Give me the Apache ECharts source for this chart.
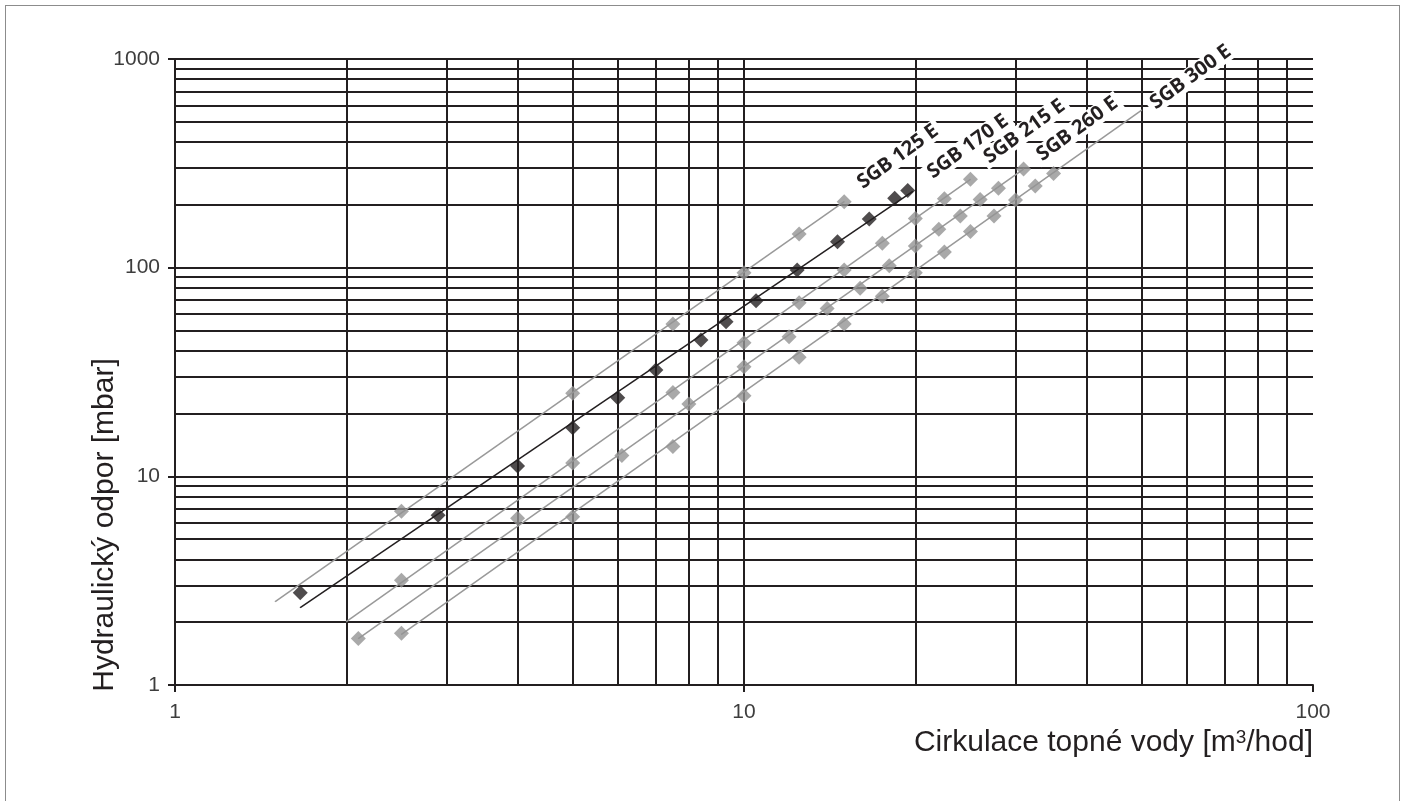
<!DOCTYPE html>
<html>
<head>
<meta charset="utf-8">
<title>Hydraulický odpor</title>
<script src="https://cdn.jsdelivr.net/npm/echarts@6/dist/echarts.min.js"></script>
<style>
  html, body { margin: 0; padding: 0; background: #fff; }
  #chart { width: 1405px; height: 801px; }
  .frame {
    position: absolute; left: 5px; top: 5px;
    width: 1393px; height: 810px;
    border: 1px solid #8c8c8c;
    pointer-events: none;
  }
</style>
</head>
<body>
<div id="chart"></div>
<div class="frame"></div>
<script>
// typy kotlů
const models = ['SGB 125 E', 'SGB 170 E', 'SGB 215 E', 'SGB 260 E', 'SGB 300 E'];
const colors = ['#999999', '#231f20', '#999999', '#999999', '#999999'];
// posun popisků (v natočených souřadnicích textu)
const labelOffsets = [[10, -11], [11, -10], [12, -13], [7, -7], [-1, -4]];

// naměřené body: průtok [m3/hod], odpor [mbar]
const flow125 = [2.5, 5, 7.5, 10, 12.5, 15];
const loss125 = [6.8, 25.0, 53.7, 94.5, 145, 207];
const flow170 = [1.66, 2.9, 4, 5, 6, 7, 8.4, 9.3, 10.5, 12.4, 14.6, 16.6, 18.4, 19.4];
const loss170 = [2.77, 6.5, 11.2, 17.1, 23.8, 32.3, 45.0, 55.1, 69.4, 97.4, 133, 171, 215, 234];
const flow215 = [2.5, 5, 7.5, 10, 12.5, 15, 17.5, 20, 22.5, 25];
const loss215 = [3.18, 11.6, 25.2, 43.7, 67.9, 97.4, 131, 172, 214, 265];
const flow260 = [2.1, 4, 6.1, 8, 10, 12, 14, 16, 18, 20, 22, 24, 26, 28, 31];
const loss260 = [1.67, 6.3, 12.6, 22.2, 33.5, 46.7, 63.8, 79.6, 102, 127, 153, 177, 212, 240, 297];
const flow300 = [2.5, 5, 7.5, 10, 12.5, 15, 17.5, 20, 22.5, 25, 27.5, 30, 32.5, 35];
const loss300 = [1.77, 6.4, 13.9, 24.3, 37.2, 53.7, 72.9, 94.5, 119, 149, 177, 211, 246, 283];

// spojnice trendu (začátek, konec)
const trendFlow125 = [1.5, 15];
const trendLoss125 = [2.51, 207];
const trendFlow170 = [1.66, 19.8];
const trendLoss170 = [2.35, 232];
const trendFlow215 = [2, 25];
const trendLoss215 = [2.01, 265];
const trendFlow260 = [2.1, 31];
const trendLoss260 = [1.67, 297];
const trendFlow300 = [2.5, 50];
const trendLoss300 = [1.75, 569];

const points = [
  [flow125, loss125], [flow170, loss170], [flow215, loss215], [flow260, loss260], [flow300, loss300]
];
const trends = [
  [trendFlow125, trendLoss125], [trendFlow170, trendLoss170], [trendFlow215, trendLoss215],
  [trendFlow260, trendLoss260], [trendFlow300, trendLoss300]
];

const gridColor = '#231f20';
const textFont = 'Liberation Sans, Arial, sans-serif';

const series = [];
models.forEach((name, i) => {
  const [tf, tl] = trends[i];
  // spojnice s popiskem na konci
  series.push({
    name: name,
    type: 'line',
    z: 3,
    silent: true,
    symbol: 'circle',
    symbolSize: 1,
    showSymbol: true,
    lineStyle: { color: colors[i], width: 1.5 },
    itemStyle: { color: colors[i] },
    label: {
      show: false,
      position: 'right',
      distance: 10,
      offset: labelOffsets[i],
      rotate: 36,
      formatter: name,
      fontFamily: 'Open Sans, Noto Sans, sans-serif',
      fontWeight: 'bold',
      fontSize: 20,
      color: '#231f20',
      backgroundColor: '#ffffff',
      padding: [0, 4]
    },
    data: tf.map((x, j) => j === tf.length - 1
      ? { value: [x, tl[j]], label: { show: true } }
      : [x, tl[j]])
  });
  // body
  const [px, py] = points[i];
  series.push({
    name: name + ' body',
    type: 'scatter',
    z: 4,
    silent: true,
    symbol: 'diamond',
    symbolSize: 15,
    itemStyle: { color: i === 1 ? '#231f20' : '#939393' },
    data: px.map((x, j) => [x, py[j]])
  });
});

const chart = echarts.init(document.getElementById('chart'));
chart.setOption({
  animation: false,
  backgroundColor: '#ffffff',
  grid: { left: 175, right: 92, top: 59, bottom: 116 },
  xAxis: {
    type: 'log',
    logBase: 10,
    min: 1,
    max: 100,
    name: 'Cirkulace topné vody [m{sup|3}/hod]',
    nameLocation: 'end',
    nameGap: 0,
    nameMoveOverlap: false,
    nameTextStyle: {
      fontFamily: textFont, fontSize: 30, color: '#231f20',
      align: 'right', verticalAlign: 'top', padding: [43, 0, 0, 0],
      rich: {
        sup: { fontFamily: textFont, fontSize: 19, color: '#231f20', verticalAlign: 'top' }
      }
    },
    axisLine: { show: true, onZero: false, lineStyle: { color: gridColor, width: 2 } },
    axisTick: { show: true, length: 7, lineStyle: { color: gridColor, width: 2 } },
    minorTick: { show: false, splitNumber: 9 },
    axisLabel: {
      margin: 17, fontFamily: textFont, fontSize: 21, color: '#3d3d3d',
      formatter: v => String(Math.round(v))
    },
    splitLine: { show: true, showMaxLine: false, lineStyle: { color: gridColor, width: 2 } },
    minorSplitLine: { show: true, lineStyle: { color: gridColor, width: 2 } }
  },
  yAxis: {
    type: 'log',
    logBase: 10,
    min: 1,
    max: 1000,
    name: 'Hydraulický odpor [mbar]',
    nameLocation: 'middle',
    nameGap: 55,
    nameMoveOverlap: false,
    nameTextStyle: {
      fontFamily: textFont, fontSize: 30, color: '#231f20',
      padding: [0, 306, 0, 0]
    },
    axisLine: { show: true, lineStyle: { color: gridColor, width: 2 } },
    axisTick: { show: true, length: 7, lineStyle: { color: gridColor, width: 2 } },
    minorTick: { show: false, splitNumber: 9 },
    axisLabel: {
      margin: 15, fontFamily: textFont, fontSize: 21, color: '#3d3d3d',
      formatter: v => String(Math.round(v))
    },
    splitLine: { show: true, lineStyle: { color: gridColor, width: 2 } },
    minorSplitLine: { show: true, lineStyle: { color: gridColor, width: 2 } }
  },
  series: series
});
</script>
</body>
</html>
